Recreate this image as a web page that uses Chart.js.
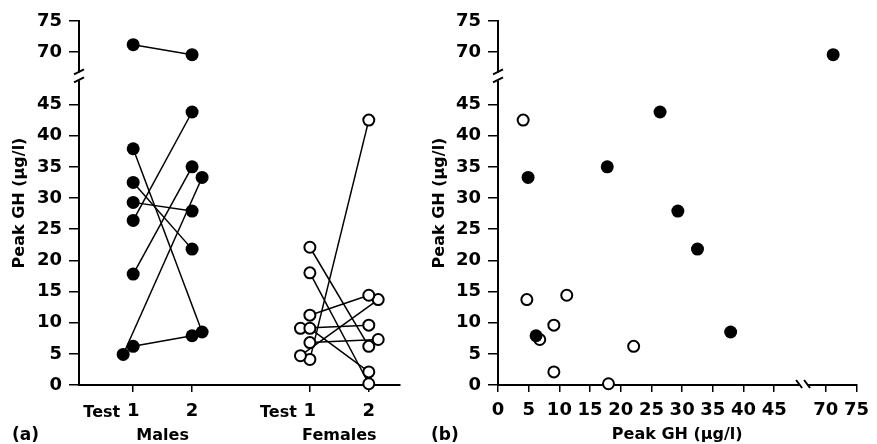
<!DOCTYPE html>
<html>
<head>
<meta charset="utf-8">
<script src="https://cdn.jsdelivr.net/npm/chart.js@4"></script>
<style>
  body { margin: 0; background: #fff; }
  #wrap { position: relative; width: 877px; height: 444px; overflow: hidden; }
  #chartA { position: absolute; left: 0; top: 0; }
  #chartB { position: absolute; left: 410px; top: 0; }
</style>
</head>
<body>
<div id="wrap">
  <canvas id="chartA" width="410" height="444"></canvas>
  <canvas id="chartB" width="467" height="444"></canvas>
</div>
<script>
// axis break: everything above 45 is shifted down so 70 sits just above 45
const BREAK_SHIFT = 16.6;
const BREAK_AT = 49.5;

const yTickValues = [0, 5, 10, 15, 20, 25, 30, 35, 40, 45, 70, 75];
const xTickValuesB = [0, 5, 10, 15, 20, 25, 30, 35, 40, 45, 70, 75];
const groupTicks = [1, 2, 4, 5];
const groupTickLabels = ["1", "2", "1", "2"];
const groupNames = ["Males", "Females"];
const groupCenters = [1.5, 4.5];

const maleTest1 = [71.2, 37.9, 32.5, 29.3, 26.4, 17.8, 6.2, 4.9];
const maleTest2 = [69.6, 8.5, 21.8, 27.9, 43.8, 35.0, 7.9, 33.3];
const femaleTest1 = [4.1, 4.7, 6.8, 9.1, 9.1, 11.2, 18.0, 22.1];
const femaleTest2 = [42.5, 13.7, 7.3, 9.6, 2.1, 14.4, 0.2, 6.2];

// small sideways offsets used in the original to separate overlapping dots
const maleJitter1 = [0, 0, 0, 0, 0, 0, 0, -0.17];
const maleJitter2 = [0, 0.17, 0, 0, 0, 0, 0, 0.17];
const femaleJitter1 = [0, -0.16, 0, -0.16, 0, 0, 0, 0];
const femaleJitter2 = [0, 0.16, 0.16, 0, 0, 0, 0, 0];

const brk = v => (v > 45 ? v - BREAK_SHIFT : v);

const FONT = '"DejaVu Sans", sans-serif';
const tickFont = { family: FONT, size: 18, weight: "bold" };
const titleFont = { family: FONT, size: 16, weight: "bold" };

Chart.defaults.color = "#000";
Chart.defaults.font.family = FONT;

function yScale(width, titlePad) {
  return {
    type: "linear",
    min: 0,
    max: brk(75),
    afterFit: s => { s.width = width; },
    afterBuildTicks: s => { s.ticks = yTickValues.map(v => ({ value: brk(v) })); },
    ticks: { callback: (v, i) => String(yTickValues[i]), padding: 7, font: tickFont, color: "#000", autoSkip: false },
    grid: { drawOnChartArea: false, tickLength: 10, color: "#000", lineWidth: 1.5 },
    border: { color: "#000", width: 2 },
    title: { display: true, text: "Peak GH (µg/l)", font: titleFont, color: "#000", padding: { top: titlePad, bottom: 0 } }
  };
}

function drawYBreak(chart) {
  const { ctx, chartArea } = chart;
  const y = chart.scales.y.getPixelForValue(BREAK_AT);
  const x = chartArea.left;
  ctx.save();
  ctx.fillStyle = "#fff";
  ctx.fillRect(x - 3, y - 4, 6, 8);
  ctx.strokeStyle = "#000";
  ctx.lineWidth = 2;
  ctx.beginPath();
  ctx.moveTo(x - 5, y - 2); ctx.lineTo(x + 5, y - 7);
  ctx.moveTo(x - 5, y + 6); ctx.lineTo(x + 5, y + 1);
  ctx.stroke();
  ctx.restore();
}

// panel (a): paired tests
const pairLines = [];
maleTest1.forEach((v, i) => {
  pairLines.push({
    data: [{ x: 1 + maleJitter1[i], y: brk(v) }, { x: 2 + maleJitter2[i], y: brk(maleTest2[i]) }],
    showLine: true, borderColor: "#000", borderWidth: 1.5, pointRadius: 0, order: 2, clip: false
  });
});
femaleTest1.forEach((v, i) => {
  pairLines.push({
    data: [{ x: 4 + femaleJitter1[i], y: brk(v) }, { x: 5 + femaleJitter2[i], y: brk(femaleTest2[i]) }],
    showLine: true, borderColor: "#000", borderWidth: 1.5, pointRadius: 0, order: 2, clip: false
  });
});

const filledDot = { pointRadius: 6.5, pointBackgroundColor: "#000", pointBorderColor: "#000", pointBorderWidth: 0, showLine: false, order: 1, clip: false };
const openDot = { pointRadius: 5.5, pointBackgroundColor: "#fff", pointBorderColor: "#000", pointBorderWidth: 2, showLine: false, order: 1, clip: false };

const dotsA = [
  { data: maleTest1.map((v, i) => ({ x: 1 + maleJitter1[i], y: brk(v) })), ...filledDot },
  { data: maleTest2.map((v, i) => ({ x: 2 + maleJitter2[i], y: brk(v) })), ...filledDot },
  { data: femaleTest1.map((v, i) => ({ x: 4 + femaleJitter1[i], y: brk(v) })), ...openDot },
  { data: femaleTest2.map((v, i) => ({ x: 5 + femaleJitter2[i], y: brk(v) })), ...openDot }
];

const labelsA = {
  id: "labelsA",
  afterDraw(chart) {
    const { ctx, chartArea } = chart;
    const x = chart.scales.x;
    drawYBreak(chart);
    ctx.save();
    ctx.fillStyle = "#000";
    ctx.textBaseline = "middle";
    ctx.font = `bold 16px ${FONT}`;
    ctx.textAlign = "right";
    [1, 4].forEach(t => ctx.fillText("Test", x.getPixelForValue(t) - 13, chartArea.bottom + 28));
    ctx.textAlign = "center";
    groupNames.forEach((n, i) => ctx.fillText(n, x.getPixelForValue(groupCenters[i]), chartArea.bottom + 51));
    ctx.font = `bold 17px ${FONT}`;
    ctx.textAlign = "left";
    ctx.fillText("(a)", 12, chartArea.bottom + 51);
    ctx.restore();
  }
};

new Chart(document.getElementById("chartA"), {
  type: "scatter",
  data: { datasets: [...pairLines, ...dotsA] },
  options: {
    responsive: false,
    animation: false,
    layout: { autoPadding: false, padding: { top: 21, right: 10, bottom: 0, left: 0 } },
    plugins: { legend: { display: false }, tooltip: { enabled: false } },
    scales: {
      x: {
        type: "linear",
        min: 0.08,
        max: 5.53,
        afterFit: s => { s.height = 59; },
        afterBuildTicks: s => { s.ticks = groupTicks.map(v => ({ value: v })); },
        ticks: { callback: (v, i) => groupTickLabels[i], padding: 9, font: tickFont, color: "#000", maxRotation: 0, autoSkip: false },
        grid: { drawOnChartArea: false, tickLength: 7, color: "#000", lineWidth: 1.5 },
        border: { color: "#000", width: 2 }
      },
      y: yScale(79, 10)
    }
  },
  plugins: [labelsA]
});

// panel (b): test 2 against test 1
const labelsB = {
  id: "labelsB",
  afterDraw(chart) {
    const { ctx, chartArea } = chart;
    drawYBreak(chart);
    const x = chart.scales.x.getPixelForValue(BREAK_AT + 0.2);
    const y = chartArea.bottom;
    ctx.save();
    ctx.fillStyle = "#fff";
    ctx.fillRect(x - 4, y - 3, 8, 6);
    ctx.strokeStyle = "#000";
    ctx.lineWidth = 2;
    ctx.beginPath();
    ctx.moveTo(x - 7, y - 5); ctx.lineTo(x - 1, y + 3);
    ctx.moveTo(x + 1, y - 5); ctx.lineTo(x + 7, y + 3);
    ctx.stroke();
    ctx.fillStyle = "#000";
    ctx.textBaseline = "middle";
    ctx.textAlign = "left";
    ctx.font = `bold 17px ${FONT}`;
    ctx.fillText("(b)", 21, chartArea.bottom + 51);
    ctx.restore();
  }
};

new Chart(document.getElementById("chartB"), {
  type: "scatter",
  data: {
    datasets: [
      { data: maleTest1.map((v, i) => ({ x: brk(v), y: brk(maleTest2[i]) })), ...filledDot },
      { data: femaleTest1.map((v, i) => ({ x: brk(v), y: brk(femaleTest2[i]) })), ...openDot }
    ]
  },
  options: {
    responsive: false,
    animation: false,
    layout: { autoPadding: false, padding: { top: 21, right: 11, bottom: 0, left: 0 } },
    plugins: { legend: { display: false }, tooltip: { enabled: false } },
    scales: {
      x: {
        type: "linear",
        min: 0,
        max: brk(75),
        afterFit: s => { s.height = 59; },
        afterBuildTicks: s => { s.ticks = xTickValuesB.map(v => ({ value: brk(v) })); },
        ticks: { callback: (v, i) => String(xTickValuesB[i]), padding: 8, font: tickFont, color: "#000", maxRotation: 0, autoSkip: false },
        grid: { drawOnChartArea: false, tickLength: 7, color: "#000", lineWidth: 1.5 },
        border: { color: "#000", width: 2 },
        title: { display: true, text: "Peak GH (µg/l)", font: titleFont, color: "#000", padding: { top: 0, bottom: 0 } }
      },
      y: yScale(88, 20)
    }
  },
  plugins: [labelsB]
});
</script>
</body>
</html>
